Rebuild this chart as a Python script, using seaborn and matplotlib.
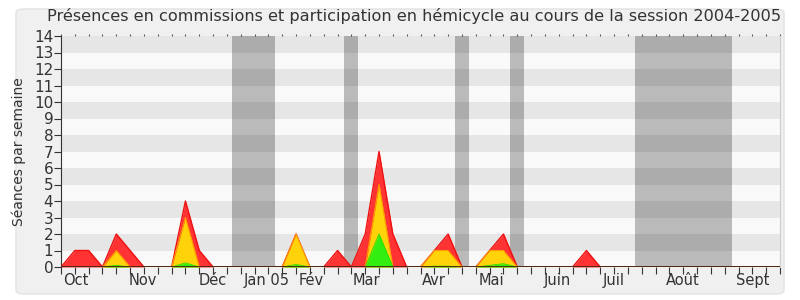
import matplotlib
matplotlib.use("Agg")
import matplotlib.pyplot as plt
import seaborn as sns
import pandas as pd
import numpy as np
from matplotlib.patches import FancyBboxPatch

# ---- data ----
weeks = list(range(53))
presences = [0, 1, 1, 0, 2, 1, 0, 0, 0, 4, 1, 0, 0,
             0, 0, 0, 0, 2, 0, 0, 1, 0, 2, 7, 2, 0,
             0, 1, 2, 0, 0, 1, 2, 0, 0, 0, 0, 0, 1, 0,
             0, 0, 0, 0, 0, 0, 0, 0, 0, 0, 0, 0, 0]
commissions = [0, 0, 0, 0, 1, 0, 0, 0, 0, 3, 0, 0, 0,
               0, 0, 0, 0, 2, 0, 0, 0, 0, 0, 5, 0, 0,
               0, 1, 1, 0, 0, 1, 1, 0, 0, 0, 0, 0, 0, 0,
               0, 0, 0, 0, 0, 0, 0, 0, 0, 0, 0, 0, 0]
hemicycle = [0, 0, 0, 0, 0.1, 0, 0, 0, 0, 0.25, 0, 0, 0,
             0, 0, 0, 0, 0.15, 0, 0, 0, 0, 0, 2, 0, 0,
             0, 0.05, 0.05, 0, 0, 0.1, 0.2, 0, 0, 0, 0, 0, 0, 0,
             0, 0, 0, 0, 0, 0, 0, 0, 0, 0, 0, 0, 0]
vacances_debut = [12.4, 20.5, 28.5, 32.5, 41.5]
vacances_fin = [15.5, 21.5, 29.5, 33.5, 48.5]
mois_labels = ["Oct", "Nov", "Déc", "Jan 05", "Fév", "Mar", "Avr", "Mai",
               "Juin", "Juil", "Août", "Sept"]
mois_pos = [1.1, 5.9, 11.0, 14.9, 18.1, 22.1, 27.0, 31.1, 35.9, 40.0, 45.0, 50.0]
titre = "Présences en commissions et participation en hémicycle au cours de la session 2004-2005"

df = pd.DataFrame({"semaine": weeks, "presences": presences,
                   "commissions": commissions, "hemicycle": hemicycle})

sns.set_theme(style="white")
plt.rcParams['font.family'] = ['DejaVu Sans']

fig = plt.figure(figsize=(8, 3), dpi=100)
fig.patch.set_facecolor("white")
bg = FancyBboxPatch((0.02, 0.02), 0.96, 0.95, boxstyle="round,pad=0.0,rounding_size=0.012",
                    transform=fig.transFigure, facecolor="#f0f0f0", edgecolor="#e2e2e2",
                    linewidth=1.0, zorder=-10)
fig.patches.append(bg)

ax = fig.add_axes([0.07625, 0.11, 0.89875, 0.77])
ax.set_facecolor("#f9f9f9")

# horizontal bands
for k in range(1, 14, 2):
    ax.axhspan(k, k + 1, color="#e6e6e6", zorder=0, lw=0)

# vacation bands
for a, b in zip(vacances_debut, vacances_fin):
    ax.axvspan(a, b, color="black", alpha=0.25, zorder=1, lw=0)

# series
ax.fill_between(df["semaine"], 0, df["presences"], color="#ff3333", zorder=2, lw=0)
sns.lineplot(data=df, x="semaine", y="presences", ax=ax, color="#ee1111", lw=1.0, zorder=3)
ax.fill_between(df["semaine"], 0, df["commissions"], color="#ffd20a", zorder=4, lw=0)
sns.lineplot(data=df, x="semaine", y="commissions", ax=ax, color="#ff9900", lw=0.8, zorder=5)
ax.fill_between(df["semaine"], 0, df["hemicycle"], color="#33ee11", zorder=6, lw=0)
sns.lineplot(data=df, x="semaine", y="hemicycle", ax=ax, color="#22dd00", lw=0.6, zorder=7)

ax.axhline(0, color="#441111", lw=1.2, zorder=8)

ax.set_xlim(0, 52)
ax.set_ylim(0, 14)
ax.set_yticks(range(0, 15))
ax.set_xticks(weeks)
ax.set_xticklabels([])
ax.tick_params(axis="x", which="major", direction="out", length=5, width=0.8, color="#333333",
               bottom=True, top=False)
ax.tick_params(axis="y", direction="out", length=5, width=0.8, color="#333333",
               labelsize=11, labelcolor="#333333", pad=0.5, left=True)

# month labels on a separate bottom axis
mo = ax.secondary_xaxis("bottom")
mo.set_xticks(mois_pos)
mo.set_xticklabels(mois_labels)
mo.tick_params(length=0, labelsize=10.5, colors="#333333", pad=4)
mo.spines["bottom"].set_visible(False)

# top dotted ticks
sec = ax.secondary_xaxis("top")
sec.set_xticks(weeks)
sec.set_xticklabels([])
sec.tick_params(direction="out", length=1.5, width=0.8, color="#555555")
sec.spines["top"].set_visible(False)

ax.spines["top"].set_visible(False)
ax.spines["right"].set_color("#cccccc")
ax.spines["right"].set_linewidth(0.8)
ax.spines["left"].set_color("#333333")
ax.spines["left"].set_linewidth(0.8)
ax.spines["bottom"].set_visible(False)

ax.set_xlabel("")
ax.set_ylabel("Séances par semaine", fontsize=10, color="#333333", labelpad=6)
fig.text(0.517, 0.945, titre, ha="center", va="center", fontsize=11.6, color="#333333")

fig.savefig("out.png", dpi=100, facecolor=fig.get_facecolor())
